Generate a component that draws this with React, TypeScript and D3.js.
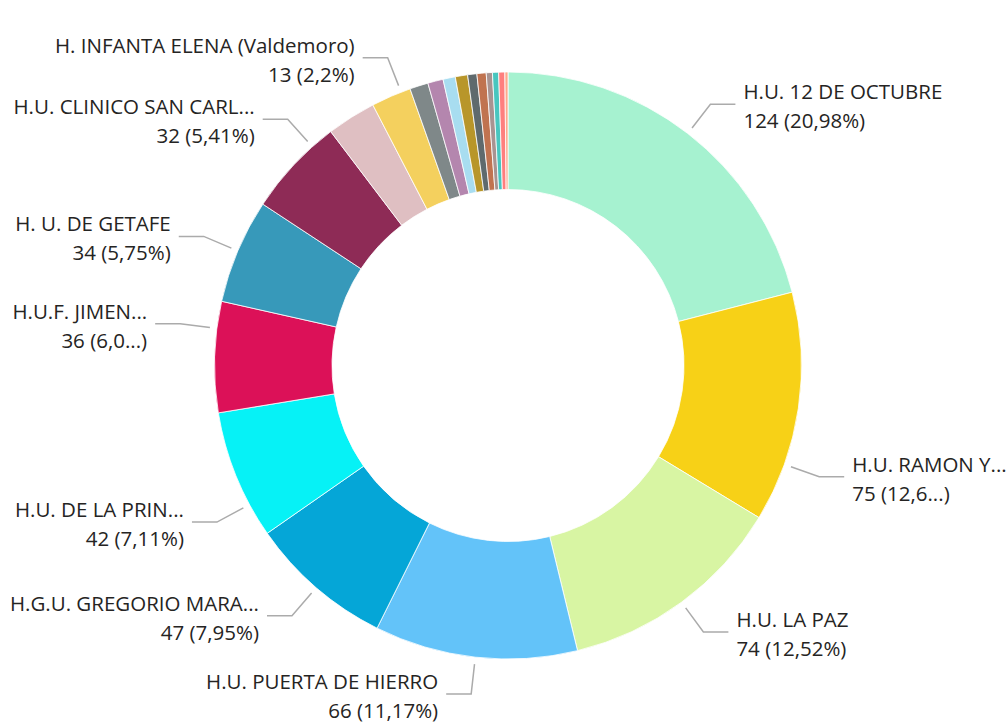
import React from 'react';
import * as d3 from 'd3';

// hospital counts, clockwise from 12 o'clock (names as shown, "" = no label)
const hospitals = [
  'H.U. 12 DE OCTUBRE',
  'H.U. RAMON Y...',
  'H.U. LA PAZ',
  'H.U. PUERTA DE HIERRO',
  'H.G.U. GREGORIO MARA...',
  'H.U. DE LA PRIN...',
  'H.U.F. JIMEN...',
  'H. U. DE GETAFE',
  'H.U. CLINICO SAN CARL...',
  '',
  'H. INFANTA ELENA (Valdemoro)',
  '', '', '', '', '', '', '', '', '', '',
];
const counts = [124, 75, 74, 66, 47, 42, 36, 34, 32, 16, 13, 6, 5, 4, 4, 3, 3, 2, 2, 2, 1];
const colors = [
  '#A6F2D0', '#F7D117', '#D8F5A3', '#63C3F9', '#05A6D7', '#06F2F6', '#DC1158',
  '#3799BA', '#8E2B56', '#DFBFC2', '#F4D05E', '#7F8889', '#B486AE', '#A8DDF0',
  '#B8962A', '#5F6A6D', '#C07350', '#A89391', '#48C6BF', '#FE7F7E', '#FDA98C',
];

const W = 1008;
const H = 723;
const cx = 508;
const cy = 365.5;
const outerR = 293.5;
const innerR = 176;

// label nudges (deg) where the labels got pushed off the slice middle
const labelShift: Record<number, number> = { 1: 11.3, 5: -6.2, 6: 5.6, 8: 5.1, 10: 2.1 };
// labels whose percentage got clipped
const clipPct = new Set([1, 6]);

const fmtPct = (v: number, total: number) => {
  let s = (v / total * 100).toFixed(2);
  s = s.replace(/0+$/, '').replace(/\.$/, '');
  return s.replace('.', ',');
};

export default function App() {
  const total = d3.sum(counts);
  const pie = d3.pie<number>().sort(null).value(d => d);
  const arcs = pie(counts);
  const arcGen = d3.arc<d3.PieArcDatum<number>>().innerRadius(innerR).outerRadius(outerR);

  return (
    <svg width={W} height={H} style={{ position: 'absolute', left: 0, top: 0, background: '#fff' }}
      fontFamily="'Open Sans', sans-serif">
      <g transform={`translate(${cx},${cy})`}>
        {arcs.map((a, i) => (
          <path key={i} d={arcGen(a) || ''} fill={colors[i]} stroke="#fff" strokeWidth={0.8} />
        ))}
      </g>
      {arcs.map((a, i) => {
        if (!hospitals[i]) return null;
        const ang = (a.startAngle + a.endAngle) / 2 + ((labelShift[i] || 0) * Math.PI) / 180;
        const sx = Math.sin(ang);
        const sy = -Math.cos(ang);
        const x1 = cx + (outerR + 7) * sx;
        const y1 = cy + (outerR + 7) * sy;
        const x2 = cx + (outerR + 37) * sx;
        const y2 = cy + (outerR + 37) * sy;
        const right = sx > 0;
        const x3 = right ? x2 + 25 : x2 - 25;
        const tx = right ? x3 + 8 : x3 - 8;
        let pct = fmtPct(counts[i], total) + '%';
        if (clipPct.has(i)) pct = pct.slice(0, -2) + '...';
        return (
          <g key={'l' + i}>
            <polyline points={`${x1},${y1} ${x2},${y2} ${x3},${y2}`} fill="none" stroke="#ABABAB" strokeWidth={1.5} />
            <text x={tx} y={y2 - 5} fontSize={20.5} fill="#252423" textAnchor={right ? 'start' : 'end'}>
              {hospitals[i]}
            </text>
            <text x={tx} y={y2 + 24} fontSize={20.5} fill="#252423" textAnchor={right ? 'start' : 'end'}>
              {`${counts[i]} (${pct})`}
            </text>
          </g>
        );
      })}
    </svg>
  );
}
